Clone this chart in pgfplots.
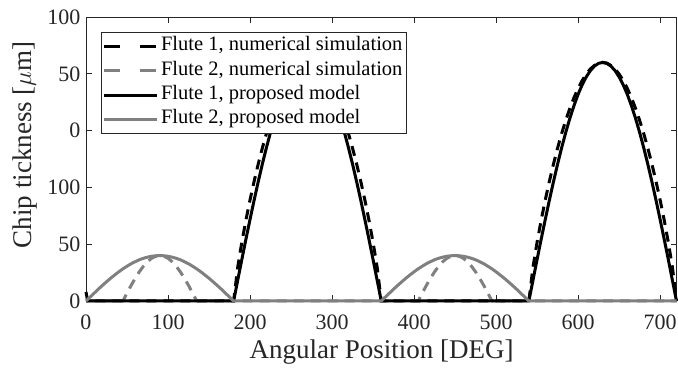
\documentclass[border=0pt]{standalone}
\usepackage{fontspec}
\setmainfont{Liberation Serif}
\usepackage{pgfplots}
\pgfplotsset{compat=1.18}
\definecolor{axgray}{rgb}{0.15,0.15,0.15}
\definecolor{fgray}{rgb}{0.5,0.5,0.5}
\begin{document}
\begin{tikzpicture}
\begin{axis}[
  scale only axis, width=590.5pt, height=284pt,
  xmin=0, xmax=720, ymin=0, ymax=250,
  xtick={0,100,...,700},
  ytick={0,50,100,150,200,250},
  yticklabels={0,50,100,0,50,100},
  /pgf/number format/assume math mode=true,
  tick align=inside, major tick length=6pt,
  xtick pos=both, ytick pos=both,
  axis line style={axgray, line width=0.6pt},
  every tick/.style={axgray, line width=0.6pt},
  tick label style={font=\fontsize{22}{26}\selectfont, text=axgray},
  xticklabel style={yshift=-10pt},
  yticklabel style={xshift=-2pt},
  xlabel={Angular Position [DEG]},
  ylabel={Chip tickness [$\mu$m]},
  every axis x label/.style={at={(axis description cs:0.5007,-0.178)}, anchor=center, font=\fontsize{27}{32}\selectfont, text=axgray},
  every axis y label/.style={at={(axis description cs:-0.104,0.55)}, anchor=center, rotate=90, font=\fontsize{27}{32}\selectfont, text=axgray},
  legend style={at={(axis description cs:0.0254,0.948)}, anchor=north west,
    font=\fontsize{20.5}{24}\selectfont, draw=axgray, line width=0.6pt,
    inner xsep=1pt, inner ysep=2pt,
    nodes={inner sep=2.7pt, text height=14pt, text depth=5pt},
    column sep=0pt},
  legend cell align=left,
  legend image code/.code={\draw[#1] (0pt,0pt) -- (53pt,0pt);},
  clip=false,
]
\addlegendimage{black, line width=3pt, dash pattern=on 16pt off 20pt}
\addlegendentry{Flute 1, numerical simulation}
\addlegendimage{fgray, line width=3pt, dash pattern=on 16pt off 20pt}
\addlegendentry{Flute 2, numerical simulation}
\addlegendimage{black, line width=3pt}
\addlegendentry{Flute 1, proposed model}
\addlegendimage{fgray, line width=3pt}
\addlegendentry{Flute 2, proposed model}

% Flute 1, numerical simulation
\addplot[forget plot, black, line width=3pt, dash pattern=on 10pt off 7pt] coordinates {
(0,8) (2,0) (180,0)
(185,29.8) (190,51.7) (195,71.2) (200,89.0) (205,105.4) (210,120.6) (215,134.6) (220,147.5) (225,159.1) (230,169.7) (235,179.0) (240,187.2) (245,194.1) (250,199.8) (255,204.3) (260,207.4) (265,209.4) (270,210)
(275,209.4) (280,207.4) (285,204.3) (290,199.8) (295,194.1) (300,187.2) (305,179.0) (310,169.7) (315,159.1) (320,147.5) (325,134.6) (330,120.6) (335,105.4) (340,89.0) (345,71.2) (350,51.7) (355,29.8) (360,0)
(540,0)
(545,29.8) (550,51.7) (555,71.2) (560,89.0) (565,105.4) (570,120.6) (575,134.6) (580,147.5) (585,159.1) (590,169.7) (595,179.0) (600,187.2) (605,194.1) (610,199.8) (615,204.3) (620,207.4) (625,209.4) (630,210)
(635,209.4) (640,207.4) (645,204.3) (650,199.8) (655,194.1) (660,187.2) (665,179.0) (670,169.7) (675,159.1) (680,147.5) (685,134.6) (690,120.6) (695,105.4) (700,89.0) (705,71.2) (710,51.7) (715,29.8) (720,0)
};
% Flute 2, numerical simulation
\addplot[forget plot, fgray, line width=3pt, dash pattern=on 10pt off 7pt] coordinates {
(0,0) (45,0) (50,6.9) (55,13.7) (60,20) (65,25.7) (70,30.6) (75,34.6) (80,37.6) (85,39.4) (90,40)
(95,39.4) (100,37.6) (105,34.6) (110,30.6) (115,25.7) (120,20) (125,13.7) (130,6.9) (135,0)
(405,0) (410,6.9) (415,13.7) (420,20) (425,25.7) (430,30.6) (435,34.6) (440,37.6) (445,39.4) (450,40)
(455,39.4) (460,37.6) (465,34.6) (470,30.6) (475,25.7) (480,20) (485,13.7) (490,6.9) (495,0) (720,0)
};
% Flute 1, proposed model
\addplot[forget plot, black, line width=3pt] coordinates {
(0,0) (180,0)
(185,18.3) (190,36.5) (195,54.4) (200,71.8) (205,88.8) (210,105.0) (215,120.5) (220,135.0) (225,148.5) (230,160.9) (235,172.0) (240,181.9) (245,190.3) (250,197.3) (255,202.8) (260,206.8) (265,209.2) (270,210)
(275,209.2) (280,206.8) (285,202.8) (290,197.3) (295,190.3) (300,181.9) (305,172.0) (310,160.9) (315,148.5) (320,135.0) (325,120.5) (330,105.0) (335,88.8) (340,71.8) (345,54.4) (350,36.5) (355,18.3) (360,0)
(540,0)
(545,18.3) (550,36.5) (555,54.4) (560,71.8) (565,88.8) (570,105.0) (575,120.5) (580,135.0) (585,148.5) (590,160.9) (595,172.0) (600,181.9) (605,190.3) (610,197.3) (615,202.8) (620,206.8) (625,209.2) (630,210)
(635,209.2) (640,206.8) (645,202.8) (650,197.3) (655,190.3) (660,181.9) (665,172.0) (670,160.9) (675,148.5) (680,135.0) (685,120.5) (690,105.0) (695,88.8) (700,71.8) (705,54.4) (710,36.5) (715,18.3) (720,0)
};
% Flute 2, proposed model
\addplot[forget plot, fgray, line width=3pt] coordinates {
(0,0) (5,3.5) (10,6.9) (15,10.4) (20,13.7) (25,16.9) (30,20) (35,22.9) (40,25.7) (45,28.3) (50,30.6) (55,32.8) (60,34.6) (65,36.3) (70,37.6) (75,38.6) (80,39.4) (85,39.8) (90,40)
(95,39.8) (100,39.4) (105,38.6) (110,37.6) (115,36.3) (120,34.6) (125,32.8) (130,30.6) (135,28.3) (140,25.7) (145,22.9) (150,20) (155,16.9) (160,13.7) (165,10.4) (170,6.9) (175,3.5) (180,0)
(360,0) (365,3.5) (370,6.9) (375,10.4) (380,13.7) (385,16.9) (390,20) (395,22.9) (400,25.7) (405,28.3) (410,30.6) (415,32.8) (420,34.6) (425,36.3) (430,37.6) (435,38.6) (440,39.4) (445,39.8) (450,40)
(455,39.8) (460,39.4) (465,38.6) (470,37.6) (475,36.3) (480,34.6) (485,32.8) (490,30.6) (495,28.3) (500,25.7) (505,22.9) (510,20) (515,16.9) (520,13.7) (525,10.4) (530,6.9) (535,3.5) (540,0) (720,0)
};
\end{axis}
\pgfresetboundingbox
\path ([shift={(-86pt,-70pt)}]current axis.south west) rectangle ([shift={(1.5pt,17pt)}]current axis.north east);
\end{tikzpicture}
\end{document}
